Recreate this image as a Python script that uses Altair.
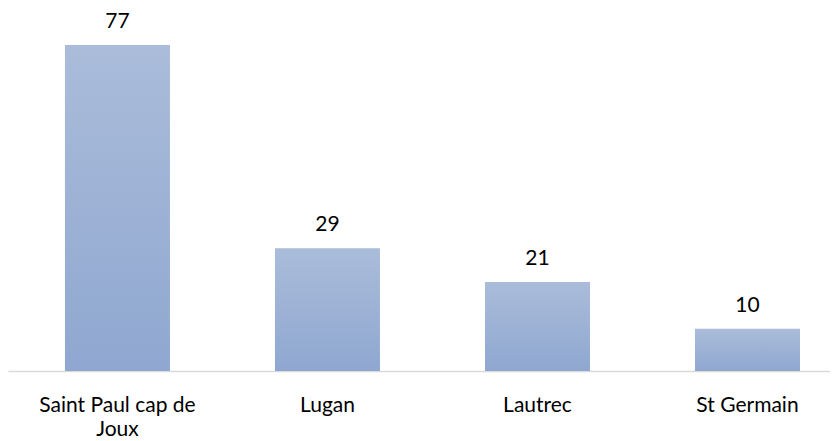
import altair as alt
import pandas as pd

categories = ["Saint Paul cap de Joux", "Lugan", "Lautrec", "St Germain"]
values = [77, 29, 21, 10]

df = pd.DataFrame({"cat": categories, "val": values})

FONT = "Lato"
ymax = 363 / (326 / 77)

x = alt.X("cat:N", sort=categories, title=None,
          scale=alt.Scale(paddingInner=0.5, paddingOuter=0.207, align=0.655),
          axis=alt.Axis(labelAngle=0, tickSize=0, labelPadding=40, domainColor="#D9D9D9",
                        domainWidth=1.5, labelFont=FONT, labelFontSize=21, labelFontWeight="normal",
                        labelColor="#000000", labelLineHeight=24, labelBaseline="alphabetic",
                        labelExpr="datum.label == 'Saint Paul cap de Joux' ? ['Saint Paul cap de', 'Joux'] : datum.label"))
y = alt.Y("val:Q", title=None, scale=alt.Scale(domain=[0, ymax], nice=False),
          axis=None)

bars = alt.Chart(df).mark_bar(
    color=alt.Gradient(gradient="linear",
                       stops=[alt.GradientStop(color="#AABCDA", offset=0),
                              alt.GradientStop(color="#8FA7D0", offset=1)],
                       x1=0, x2=0, y1=0, y2=1)
).encode(x=x, y=y)

labels = alt.Chart(df).mark_text(dy=-17, baseline="alphabetic", font=FONT, fontSize=21,
                                 fontWeight="normal", color="#000000").encode(
    x=alt.X("cat:N", sort=categories), y="val:Q", text="val:Q")

chart = (bars + labels).properties(width=822, height=363, padding=0).configure_view(stroke=None)

chart.save("out.html", embed_options={"renderer": "svg", "actions": False})
